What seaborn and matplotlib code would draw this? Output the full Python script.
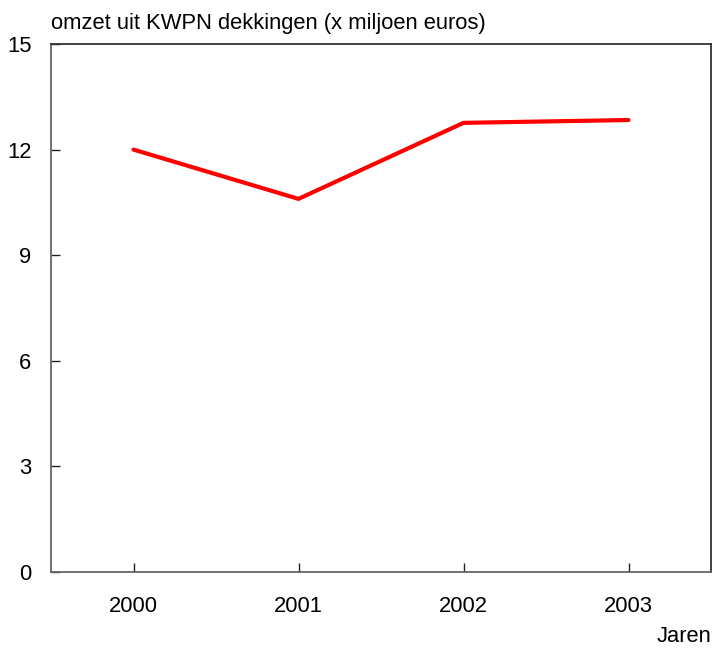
import matplotlib
matplotlib.use("Agg")
import matplotlib.pyplot as plt
import seaborn as sns
import pandas as pd

years = ["2000", "2001", "2002", "2003"]
omzet = [12.0, 10.6, 12.76, 12.84]
yticks = [0, 3, 6, 9, 12, 15]

sns.set_style("white")
plt.rcParams["font.family"] = ["Liberation Sans", "DejaVu Sans"]
plt.rcParams["text.color"] = "black"

df = pd.DataFrame({"x": range(len(years)), "y": omzet})

fig = plt.figure(figsize=(7.14, 6.48), dpi=100)
ax = fig.add_axes([51 / 714, 1 - 572 / 648, 660 / 714, 528 / 648])
sns.lineplot(data=df, x="x", y="y", ax=ax, color="#ff0000", linewidth=3.0)

ax.set_xlim(-0.5, len(years) - 0.5)
ax.set_ylim(0, 15)
ax.set_xticks(range(len(years)))
ax.set_xticklabels(years)
ax.set_yticks(yticks)
ax.set_yticklabels([str(t) for t in yticks])
ax.set_xlabel("")
ax.set_ylabel("")
ax.tick_params(axis="both", direction="in", length=6.5, width=1.0, color="#222222",
               labelsize=15.8, labelcolor="black", bottom=True, left=True,
               top=False, right=False)
ax.tick_params(axis="x", pad=17)
ax.tick_params(axis="y", pad=14)
for s in ["left", "bottom"]:
    ax.spines[s].set_color("#666666")
    ax.spines[s].set_linewidth(1.3)
for s in ["top", "right"]:
    ax.spines[s].set_color("#333333")
    ax.spines[s].set_linewidth(1.3)
    ax.spines[s].set_visible(True)

fig.text(51 / 714, 1 - 23 / 648, "omzet uit KWPN dekkingen (x miljoen euros)",
         ha="left", va="center", fontsize=15.8, color="black")
fig.text(711 / 714, 1 - 636 / 648, "Jaren", ha="right", va="center", fontsize=15.8,
         color="black")

fig.savefig("out.png", dpi=100)
